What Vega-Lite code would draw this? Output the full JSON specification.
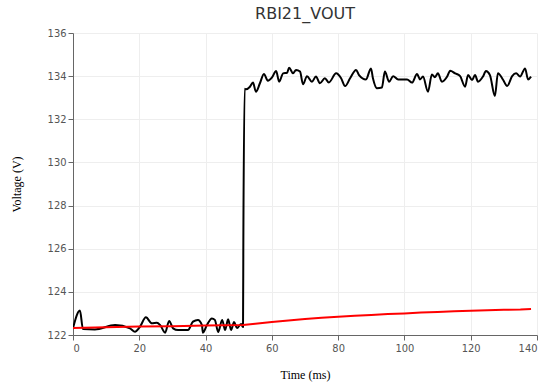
{
  "$schema": "https://vega.github.io/schema/vega-lite/v6.json",
  "autosize": "none",
  "width": 464,
  "height": 302,
  "padding": {"left": 73, "top": 33, "right": 9, "bottom": 48},
  "background": "white",
  "title": {"text": "RBI21_VOUT", "font": "DejaVu Sans", "fontSize": 16, "fontWeight": "normal", "color": "#333", "offset": 5},
  "config": {"view": {"stroke": null}},
  "datasets": {
    "vout": [
      {"t": 0, "v": 122.31}, {"t": 2.1, "v": 123.13}, {"t": 3.0, "v": 122.28}, {"t": 6.6, "v": 122.26},
      {"t": 12.7, "v": 122.46}, {"t": 17.2, "v": 122.31}, {"t": 18.7, "v": 122.15}, {"t": 20.2, "v": 122.38},
      {"t": 22.0, "v": 122.82}, {"t": 23.8, "v": 122.54}, {"t": 25.3, "v": 122.57}, {"t": 26.3, "v": 122.46},
      {"t": 27.8, "v": 122.11}, {"t": 29.0, "v": 122.65}, {"t": 30.2, "v": 122.31}, {"t": 31.7, "v": 122.23},
      {"t": 34.7, "v": 122.23}, {"t": 36.2, "v": 122.62}, {"t": 37.7, "v": 122.70}, {"t": 38.9, "v": 122.46},
      {"t": 39.2, "v": 122.11}, {"t": 40.4, "v": 122.46}, {"t": 41.9, "v": 122.77}, {"t": 42.8, "v": 122.70},
      {"t": 43.8, "v": 122.14}, {"t": 45.0, "v": 122.70}, {"t": 45.9, "v": 122.23}, {"t": 46.8, "v": 122.73},
      {"t": 47.7, "v": 122.23}, {"t": 48.6, "v": 122.60}, {"t": 49.5, "v": 122.32}, {"t": 50.7, "v": 122.51},
      {"t": 51.3, "v": 122.37}, {"t": 51.4, "v": 126.4}, {"t": 51.8, "v": 133.42},
      {"t": 52.2, "v": 133.39}, {"t": 53.4, "v": 133.51}, {"t": 54.3, "v": 133.70}, {"t": 55.2, "v": 133.28},
      {"t": 56.4, "v": 133.67}, {"t": 57.6, "v": 134.10}, {"t": 58.8, "v": 133.79}, {"t": 60.0, "v": 133.93},
      {"t": 61.3, "v": 134.24}, {"t": 62.2, "v": 133.74}, {"t": 63.4, "v": 134.13}, {"t": 64.6, "v": 134.16},
      {"t": 65.2, "v": 134.39}, {"t": 66.4, "v": 134.13}, {"t": 67.3, "v": 134.29}, {"t": 68.5, "v": 134.21},
      {"t": 69.4, "v": 133.62}, {"t": 70.6, "v": 134.0}, {"t": 72.1, "v": 133.74}, {"t": 73.3, "v": 133.98},
      {"t": 74.5, "v": 133.67}, {"t": 76.0, "v": 133.90}, {"t": 77.2, "v": 133.71}, {"t": 79.4, "v": 134.13},
      {"t": 80.9, "v": 133.90}, {"t": 82.1, "v": 133.54}, {"t": 83.6, "v": 133.90}, {"t": 85.4, "v": 134.29},
      {"t": 86.3, "v": 134.05}, {"t": 88.4, "v": 133.85}, {"t": 89.9, "v": 134.36}, {"t": 90.5, "v": 133.90},
      {"t": 91.7, "v": 133.44}, {"t": 93.2, "v": 133.47}, {"t": 94.1, "v": 134.21}, {"t": 95.4, "v": 133.74},
      {"t": 96.6, "v": 134.0}, {"t": 98.1, "v": 133.85}, {"t": 100.8, "v": 133.85}, {"t": 102.3, "v": 133.70},
      {"t": 103.8, "v": 134.10}, {"t": 104.7, "v": 133.85}, {"t": 105.6, "v": 133.98}, {"t": 107.1, "v": 133.28},
      {"t": 108.3, "v": 134.08}, {"t": 109.2, "v": 133.95}, {"t": 110.1, "v": 134.13}, {"t": 111.3, "v": 133.74},
      {"t": 112.9, "v": 133.98}, {"t": 113.8, "v": 134.25}, {"t": 115.3, "v": 134.13}, {"t": 116.8, "v": 134.0},
      {"t": 118.3, "v": 133.51}, {"t": 119.2, "v": 134.05}, {"t": 120.4, "v": 133.82}, {"t": 121.3, "v": 134.05},
      {"t": 122.2, "v": 133.74}, {"t": 123.7, "v": 133.98}, {"t": 124.6, "v": 134.24}, {"t": 125.8, "v": 134.05},
      {"t": 127.3, "v": 133.08}, {"t": 128.2, "v": 134.13}, {"t": 129.8, "v": 133.82}, {"t": 131.0, "v": 133.54},
      {"t": 132.5, "v": 134.0}, {"t": 133.7, "v": 134.13}, {"t": 134.9, "v": 133.98}, {"t": 136.4, "v": 134.36},
      {"t": 137.3, "v": 133.85}, {"t": 138.2, "v": 133.98}
    ],
    "ref": [
      {"t": 0, "v": 122.33}, {"t": 10, "v": 122.36}, {"t": 20, "v": 122.39}, {"t": 30, "v": 122.41},
      {"t": 40, "v": 122.44}, {"t": 51.3, "v": 122.46}, {"t": 55, "v": 122.52}, {"t": 60, "v": 122.60},
      {"t": 65, "v": 122.67}, {"t": 70, "v": 122.74}, {"t": 75, "v": 122.80}, {"t": 80, "v": 122.85},
      {"t": 85, "v": 122.89}, {"t": 90, "v": 122.93}, {"t": 95, "v": 122.97}, {"t": 100, "v": 123.00},
      {"t": 105, "v": 123.04}, {"t": 110, "v": 123.07}, {"t": 115, "v": 123.10}, {"t": 120, "v": 123.12},
      {"t": 125, "v": 123.15}, {"t": 130, "v": 123.17}, {"t": 135, "v": 123.18}, {"t": 138.2, "v": 123.20}
    ]
  },
  "layer": [
    {
      "data": {"name": "vout"},
      "mark": {"type": "line", "color": "black", "strokeWidth": 2, "clip": true, "interpolate": "monotone", "strokeJoin": "round"},
      "encoding": {
        "x": {"field": "t", "type": "quantitative", "scale": {"domain": [0, 140], "nice": false}, "title": "Time (ms)",
          "axis": {"values": [0, 20, 40, 60, 80, 100, 120, 140], "grid": true, "gridColor": "#eeeeee", "domainColor": "#666", "tickColor": "#666", "tickSize": 5,
            "labelFont": "DejaVu Sans Condensed", "labelFontSize": 11, "labelColor": "#555", "labelPadding": 2,
            "titleFont": "Liberation Serif", "titleFontSize": 12, "titleFontWeight": "normal", "titleColor": "#000", "titlePadding": 16}},
        "y": {"field": "v", "type": "quantitative", "scale": {"domain": [122, 136], "nice": false, "zero": false}, "title": "Voltage (V)",
          "axis": {"values": [122, 124, 126, 128, 130, 132, 134, 136], "grid": true, "gridColor": "#eeeeee", "domainColor": "#666", "tickColor": "#666", "tickSize": 5,
            "labelFont": "DejaVu Sans Condensed", "labelFontSize": 11, "labelColor": "#555", "labelPadding": 2,
            "titleFont": "Liberation Serif", "titleFontSize": 12, "titleFontWeight": "normal", "titleColor": "#000", "titlePadding": 24}}
      }
    },
    {
      "data": {"name": "ref"},
      "mark": {"type": "line", "color": "#ff0000", "strokeWidth": 2, "clip": true},
      "encoding": {
        "x": {"field": "t", "type": "quantitative"},
        "y": {"field": "v", "type": "quantitative"}
      }
    }
  ]
}
